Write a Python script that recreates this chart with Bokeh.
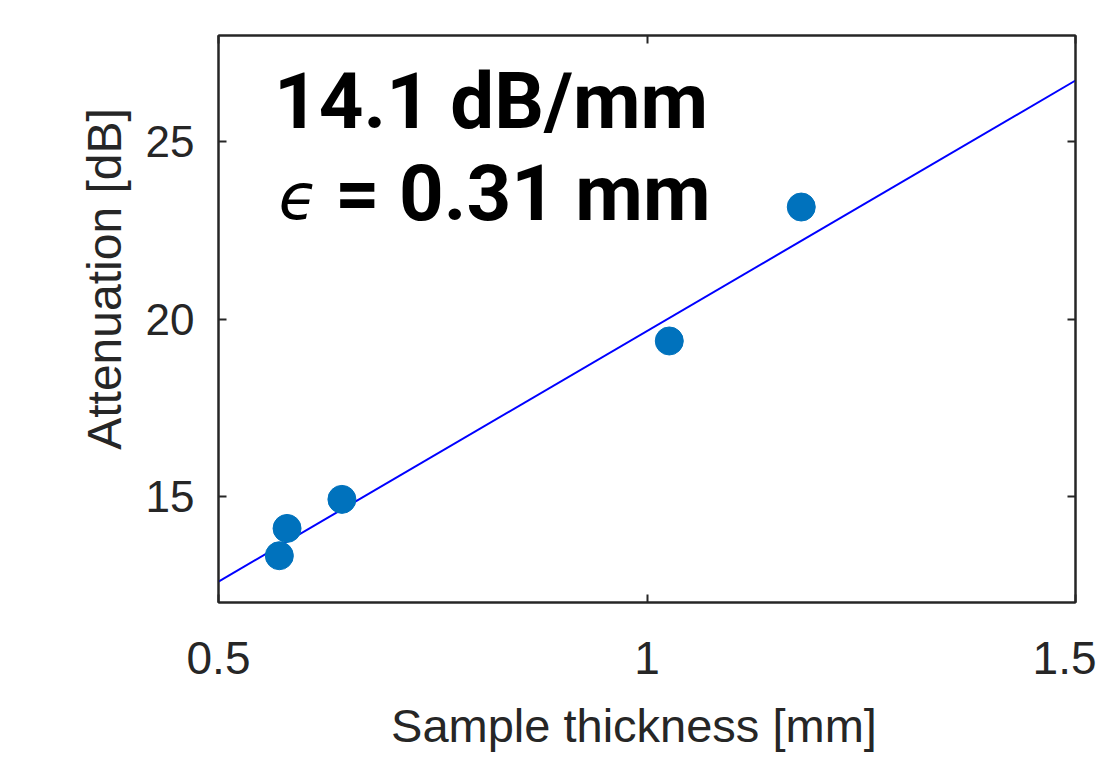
from bokeh.plotting import figure
from bokeh.models import Range1d, FixedTicker, LinearAxis, Label
from bokeh.embed import file_html
from bokeh.resources import INLINE

# data
thickness_mm = [0.571, 0.580, 0.644, 1.026, 1.180]
attenuation_db = [13.32, 14.09, 14.91, 19.38, 23.16]
fit_x = [0.5, 1.5]
fit_y = [12.59, 26.73]
x_ticks = [0.5, 1.0, 1.5]
y_ticks = [15, 20, 25]
x_tick_labels = {0.5: "0.5", 1.0: "1", 1.5: "1.5"}

AX = "#262626"
NB = "\u00a0"

p = figure(width=1096, height=755, output_backend="svg", toolbar_location=None,
           x_range=Range1d(0.5, 1.5), y_range=Range1d(12, 28),
           min_border_left=218, min_border_right=21, min_border_top=35, min_border_bottom=153,
           x_axis_location=None, y_axis_location=None)
p.grid.visible = False
p.outline_line_color = AX
p.outline_line_width = 2
p.background_fill_color = "white"
p.border_fill_color = "white"

def style_axis(ax, tick_size="45px", label_size="47px"):
    ax.axis_line_color = AX
    ax.axis_line_width = 2
    ax.major_tick_line_color = AX
    ax.major_tick_line_width = 2
    ax.major_tick_in = 8
    ax.major_tick_out = 0
    ax.minor_tick_line_color = None
    ax.major_label_text_font = "Liberation Sans"
    ax.major_label_text_color = AX
    ax.major_label_text_font_size = tick_size
    ax.axis_label_text_font = "Liberation Sans"
    ax.axis_label_text_font_size = label_size
    ax.axis_label_text_font_style = "normal"
    ax.axis_label_text_color = AX

xb = LinearAxis(ticker=FixedTicker(ticks=x_ticks), major_label_overrides=x_tick_labels,
                axis_label="Sample thickness [mm]" + NB * 2)
style_axis(xb, "46px", "47px")
xb.major_label_standoff = 39
xb.axis_label_standoff = 22
p.add_layout(xb, "below")

yl = LinearAxis(ticker=FixedTicker(ticks=y_ticks), axis_label=NB * 6 + "Attenuation [dB]")
style_axis(yl, "44px", "48px")
yl.major_label_standoff = 24
yl.axis_label_standoff = 12
p.add_layout(yl, "left")

xt = LinearAxis(ticker=FixedTicker(ticks=x_ticks),
                major_label_overrides={t: "" for t in x_ticks})
style_axis(xt)
p.add_layout(xt, "above")

yr = LinearAxis(ticker=FixedTicker(ticks=y_ticks),
                major_label_overrides={t: "" for t in y_ticks})
style_axis(yr)
p.add_layout(yr, "right")

p.line(fit_x, fit_y, line_color="#0000FF", line_width=2)
p.scatter(thickness_mm, attenuation_db, size=28, fill_color="#0072BD", line_color="#0072BD")

# annotation
p.add_layout(Label(x=0.818, y=26.15, text="14.1 dB/mm", text_align="center",
                   text_baseline="alphabetic", text_font="Roboto", text_font_style="bold",
                   text_font_size="78px", text_color="black"))
p.add_layout(Label(x=0.855, y=23.55, text="= 0.31 mm", text_align="center",
                   text_baseline="alphabetic", text_font="Roboto", text_font_style="bold",
                   text_font_size="78px", text_color="black"))
p.add_layout(Label(x=0.593, y=23.45, text="ϵ", text_align="center",
                   text_baseline="alphabetic", text_font="DejaVu Sans", text_font_style="italic",
                   text_font_size="64px", text_color="black"))

open("out.html", "w").write(file_html(p, INLINE))
